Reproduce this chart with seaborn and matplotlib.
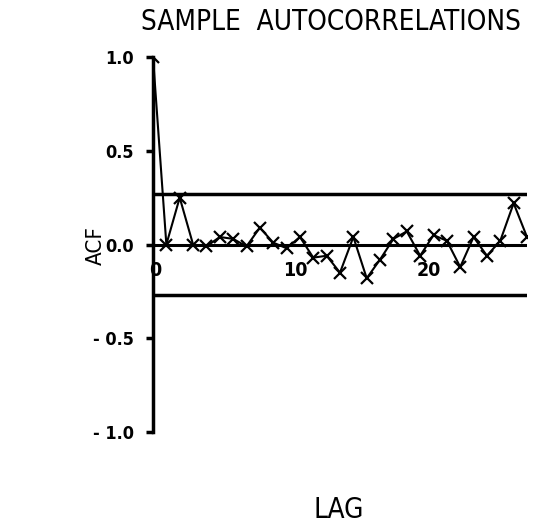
import matplotlib
matplotlib.use('Agg')
import matplotlib.pyplot as plt
import matplotlib.transforms as mtrans
import pandas as pd
import seaborn as sns

# sample ACF
lags = list(range(29))
acf = [1.00, 0.00, 0.25, 0.00, -0.01, 0.04, 0.03, -0.01, 0.09, 0.01,
       -0.02, 0.04, -0.07, -0.06, -0.15, 0.04, -0.18, -0.08, 0.03, 0.07,
       -0.06, 0.05, 0.02, -0.12, 0.04, -0.06, 0.02, 0.22, 0.04]
bound = 0.27
yticks = [-1.0, -0.5, 0.0, 0.5, 1.0]
ytick_labels = ['- 1.0', '- 0.5', '0.0', '0.5', '1.0']
xticks = [0, 10, 20]
xtick_labels = ['0', '10', '20']

sns.set_style('white')
plt.rcParams['font.family'] = ['Liberation Sans Narrow', 'DejaVu Sans']
plt.rcParams['font.stretch'] = 'condensed'
plt.rcParams['text.color'] = 'black'
plt.rcParams['xtick.color'] = 'black'
plt.rcParams['ytick.color'] = 'black'
plt.rcParams['xtick.labelcolor'] = 'black'
plt.rcParams['ytick.labelcolor'] = 'black'

df = pd.DataFrame({'lag': lags, 'acf': acf})

W, H = 534, 532
fig = plt.figure(figsize=(W/100, H/100), dpi=100)
ax = fig.add_axes([153/W, 1-432/H, (527-153)/W, (432-57)/H])

sns.lineplot(data=df, x='lag', y='acf', ax=ax, color='black', lw=1.5,
             marker='x', markersize=8, mew=1.6, mec='black')

ax.axhline(0, color='black', lw=2.2)
ax.axhline(bound, color='black', lw=2.5)
ax.axhline(-bound, color='black', lw=2.5)

ax.set_xlim(0, 28)
ax.set_ylim(-1, 1)

for s in ['top', 'right']:
    ax.spines[s].set_visible(False)
ax.spines['left'].set_linewidth(2.5)
ax.spines['left'].set_color('black')
ax.spines['bottom'].set_position(('data', 0))
ax.spines['bottom'].set_visible(False)

ax.set_yticks(yticks)
ax.set_yticklabels(ytick_labels, fontsize=13, fontweight='bold')
ax.tick_params(axis='y', left=True, length=5, width=2.5, pad=9)
ax.set_xticks(xticks)
ax.set_xticklabels(xtick_labels, fontsize=14, fontweight='bold')
ax.tick_params(axis='x', bottom=False, length=0, pad=12)
for lab in ax.get_xticklabels():
    lab.set_horizontalalignment('left')
    lab.set_transform(lab.get_transform() + mtrans.ScaledTranslation(-4/100, 0, fig.dpi_scale_trans))

ax.set_xlabel('')
ax.set_ylabel('')

fig.text(331/W, 1-22/H, 'SAMPLE  AUTOCORRELATIONS', ha='center', va='center', fontsize=20)
fig.text(96/W, 1-246/H, 'ACF', ha='center', va='center', rotation=90, fontsize=16)
fig.text(339/W, 1-510/H, 'LAG', ha='center', va='center', fontsize=20)

fig.savefig('out.png', dpi=100)
